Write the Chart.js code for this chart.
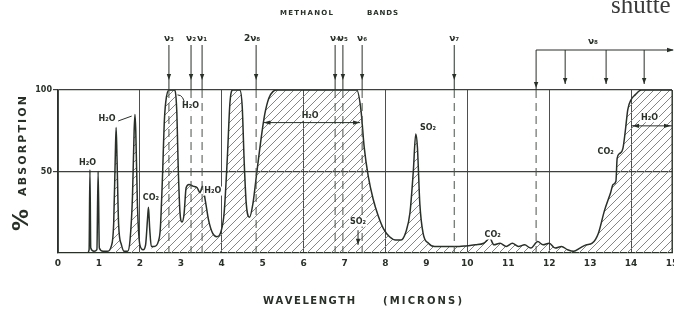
<!DOCTYPE html>
<html><head><meta charset="utf-8">
<script src="https://cdn.jsdelivr.net/npm/chart.js@4.4.0/dist/chart.umd.min.js"></script>
<style>html,body{margin:0;padding:0;background:#fff;}#wrap{width:674px;height:313px;position:relative;}</style>
</head><body><div id="wrap"><canvas id="c" width="674" height="313"></canvas></div>
<script>
// ---- data ----
const wavelength = [0.72,0.76,0.78,0.80,0.88,0.95,0.98,1.01,1.10,1.20,1.30,1.36,1.40,1.42,1.44,1.48,1.55,1.62,1.70,1.76,1.82,1.86,1.88,1.90,1.94,2.00,2.08,2.14,2.19,2.21,2.24,2.28,2.35,2.45,2.50,2.55,2.60,2.65,2.72,2.84,2.90,2.94,2.98,3.03,3.08,3.13,3.20,3.30,3.40,3.47,3.53,3.60,3.68,3.78,3.88,3.98,4.06,4.14,4.20,4.27,4.44,4.50,4.55,4.60,4.68,4.76,4.85,4.95,5.05,5.15,5.25,5.35,7.30,7.40,7.48,7.58,7.70,7.82,7.95,8.10,8.25,8.38,8.50,8.60,8.68,8.74,8.78,8.84,8.92,9.05,9.20,9.50,9.80,10.0,10.2,10.4,10.55,10.65,10.8,10.95,11.1,11.25,11.4,11.55,11.72,11.85,12.0,12.15,12.3,12.45,12.6,12.75,12.9,13.05,13.2,13.35,13.5,13.56,13.63,13.66,13.72,13.8,13.86,13.92,14.0,14.1,14.25,15.0];
const absorption = [0,2,51,3,1,2,50,3,1,1,4,18,60,77,60,18,5,1,1,8,35,75,85,75,30,5,2,5,22,28,15,4,4,7,15,45,82,96,100,100,88,50,25,19,24,40,42,41,40,37,41,32,20,12,10,13,25,60,92,100,100,90,55,30,22,30,48,68,85,95,99,100,100,88,65,47,33,23,15,10,8,8,13,25,50,73,65,30,12,6,4,4,4,4.5,5,6,9,5,6,4,6,4,5,3,7,5,6,3,4,2,1,3,5,6,12,26,37,42,44,58,61,64,75,88,94,97,100,100];
const xTickValues = [0,1,2,3,4,5,6,7,8,9,10,11,12,13,14,15];
const yTickValues = [0,50,100];
const hatchRanges = [[1.30,1.55],[1.76,2.00],[2.28,15]];
const bandLabels = ['ν₃','ν₂','ν₁','2ν₈','ν₄','ν₅','ν₆','ν₇'];
const bandPositions = [2.71,3.25,3.52,4.84,6.77,6.96,7.43,9.68];
const nu8Start = 11.68;
const nu8Arrows = [12.39,13.39,14.32];

const INK = '#283028';
const curvePts = wavelength.map((w,i)=>({x:w,y:absorption[i]}));
const inHatch = w => hatchRanges.some(r=>w>=r[0]&&w<=r[1]);
const hatchPts = wavelength.map((w,i)=>({x:w,y:inHatch(w)?absorption[i]:null}));

function makePattern(){
  const c=document.createElement('canvas'); c.width=8; c.height=8;
  const g=c.getContext('2d'); g.strokeStyle='#868686'; g.lineWidth=1;
  g.beginPath(); g.moveTo(0,8); g.lineTo(8,0); g.moveTo(-2,2); g.lineTo(2,-2); g.moveTo(6,10); g.lineTo(10,6); g.stroke();
  return g.createPattern(c,'repeat');
}

function spaced(ctx,text,x,y,width){
  const chars=[...text]; const ws=chars.map(ch=>ctx.measureText(ch).width);
  const tot=ws.reduce((a,b)=>a+b,0);
  let sp=chars.length>1?(width-tot)/(chars.length-1):0;
  let sx=1;
  if(sp<0){sx=width/tot; sp=0;}
  ctx.save(); ctx.translate(x,y); ctx.scale(sx,1);
  let cx=0; ctx.textAlign='left';
  chars.forEach((ch,i)=>{ctx.fillText(ch,cx,0); cx+=ws[i]+sp/sx;});
  ctx.restore();
}
function arrowHead(ctx,x,y,dir){
  ctx.beginPath();
  if(dir==='down'){ctx.moveTo(x,y);ctx.lineTo(x-2.2,y-6);ctx.lineTo(x+2.2,y-6);}
  if(dir==='up'){ctx.moveTo(x,y);ctx.lineTo(x-2.2,y+6);ctx.lineTo(x+2.2,y+6);}
  if(dir==='right'){ctx.moveTo(x,y);ctx.lineTo(x-7,y-2.2);ctx.lineTo(x-7,y+2.2);}
  if(dir==='left'){ctx.moveTo(x,y);ctx.lineTo(x+7,y-2.2);ctx.lineTo(x+7,y+2.2);}
  ctx.closePath(); ctx.fill();
}
function seg(ctx,x1,y1,x2,y2){ctx.beginPath();ctx.moveTo(x1,y1);ctx.lineTo(x2,y2);ctx.stroke();}

const overlay = {
  id:'overlay',
  afterDatasetsDraw(chart){
    const {ctx, chartArea:a, scales:{x,y}} = chart;
    const X=v=>x.getPixelForValue(v), Y=v=>y.getPixelForValue(v);
    ctx.save();
    ctx.strokeStyle='#4a524a'; ctx.lineWidth=1; ctx.setLineDash([8,5]);
    [...bandPositions, nu8Start].forEach(p=>seg(ctx,X(p),a.top,X(p),a.bottom));
    ctx.setLineDash([]);
    ctx.strokeStyle=INK; ctx.fillStyle=INK; ctx.lineWidth=1;
    seg(ctx,a.right,a.top,a.right,a.bottom);
    let yy=Y(80); seg(ctx,X(5.02),yy,X(7.38),yy); arrowHead(ctx,X(7.38),yy,'right'); arrowHead(ctx,X(5.02),yy,'left');
    yy=Y(78); seg(ctx,X(14.0),yy,X(15),yy); arrowHead(ctx,X(15)-1,yy,'right'); arrowHead(ctx,X(14.0)+1,yy,'left');
    seg(ctx,X(7.33),Y(14),X(7.33),Y(5)); arrowHead(ctx,X(7.33),Y(5),'down');
    seg(ctx,X(1.47),Y(81),X(1.80),Y(84));
    ctx.beginPath(); ctx.moveTo(X(2.92),Y(97)); ctx.quadraticCurveTo(X(3.08),Y(97),X(3.1),Y(90)); ctx.stroke();
    ctx.font='bold 8px "DejaVu Sans"'; ctx.textAlign='center'; ctx.textBaseline='middle';
    const labs=[['H₂O',0.72,55],['H₂O',1.20,82],['CO₂',2.27,34],['H₂O',3.24,90],['H₂O',3.78,38],['H₂O',6.16,84],
      ['SO₂',9.04,77],['SO₂',7.33,19],['CO₂',10.62,11],['CO₂',13.38,62],['H₂O',14.45,83]];
    labs.forEach(l=>{ctx.fillStyle='#fff'; const w=ctx.measureText(l[0]).width; ctx.fillRect(X(l[1])-w/2-1,Y(l[2])-4.5,w+2,9); ctx.fillStyle=INK; ctx.fillText(l[0],X(l[1]),Y(l[2]));});
    ctx.restore();
  },
  afterDraw(chart){
    const {ctx, chartArea:a, scales:{x,y}} = chart;
    const X=v=>x.getPixelForValue(v);
    ctx.save();
    ctx.strokeStyle=INK; ctx.fillStyle=INK; ctx.lineWidth=1;
    bandPositions.forEach(p=>{seg(ctx,X(p),45,X(p),a.top); arrowHead(ctx,X(p),80,'down');});
    ctx.font='bold 9px "DejaVu Sans"'; ctx.textBaseline='alphabetic'; ctx.textAlign='center';
    bandLabels.forEach((t,i)=>{ctx.fillText(t,X(bandPositions[i])+(t.length>2?-4:0),41);});
    const xs=X(nu8Start);
    seg(ctx,xs,50,xs,a.top); arrowHead(ctx,xs,a.top-2,'down');
    seg(ctx,xs,50,673,50); arrowHead(ctx,674,50,'right');
    nu8Arrows.forEach(p=>{seg(ctx,X(p),50,X(p),84); arrowHead(ctx,X(p),84,'down');});
    ctx.fillText('ν₈',593,44);
    ctx.font='bold 7px "DejaVu Sans"';
    spaced(ctx,'METHANOL',280,15,53);
    spaced(ctx,'BANDS',367,15,31);
    ctx.font='bold 10px "DejaVu Sans"';
    spaced(ctx,'WAVELENGTH',263,304,92);
    spaced(ctx,'(MICRONS)',383,304,79);
    ctx.save(); ctx.translate(28,232); ctx.rotate(-Math.PI/2);
    ctx.font='bold 22px "DejaVu Sans"'; ctx.fillText('%',12,0);
    ctx.font='bold 11px "DejaVu Sans"'; spaced(ctx,'ABSORPTION',36,-2,100);
    ctx.restore();
    ctx.fillStyle='#3a3a3a'; ctx.font='25px "Liberation Serif"'; ctx.textAlign='left';
    ctx.fillText('shutte',611,13);
    ctx.restore();
  }
};

new Chart(document.getElementById('c'),{
  type:'line',
  data:{datasets:[
    {data:hatchPts, borderWidth:0, pointRadius:0, fill:'origin', backgroundColor:makePattern(), spanGaps:false, cubicInterpolationMode:'monotone', order:2},
    {data:curvePts, borderColor:INK, borderWidth:1.5, pointRadius:0, fill:false, cubicInterpolationMode:'monotone', order:1}
  ]},
  options:{
    responsive:false, animation:false, devicePixelRatio:1,
    layout:{padding:{left:0,right:2,top:90,bottom:0}},
    plugins:{legend:{display:false},tooltip:{enabled:false}},
    scales:{
      x:{type:'linear',min:0,max:15,
        afterBuildTicks:s=>{s.ticks=xTickValues.map(v=>({value:v}));},
        afterFit:s=>{s.height=60;s.paddingLeft=0;s.paddingRight=0;},
        grid:{drawTicks:false,color:c=>(c.tick&&(c.tick.value%2===0||c.tick.value===15))?'#4a524a':'rgba(0,0,0,0)',lineWidth:1},
        border:{display:true,color:INK,width:1.2},
        ticks:{padding:5,maxRotation:0,autoSkip:false,color:INK,font:{family:'DejaVu Sans',size:9,weight:'bold'}}},
      y:{type:'linear',min:0,max:100,
        afterBuildTicks:s=>{s.ticks=yTickValues.map(v=>({value:v}));},
        afterFit:s=>{s.width=58;},
        grid:{drawTicks:true,tickLength:5,color:c=>c.tick&&c.tick.value===0?'rgba(0,0,0,0)':'#3a423a',lineWidth:1.2},
        border:{display:true,color:INK,width:1.2},
        ticks:{padding:1,color:INK,font:{family:'DejaVu Sans',size:8,weight:'bold'},callback:v=>v===0?'':String(v)}}
    }
  },
  plugins:[overlay]
});
</script></body></html>
